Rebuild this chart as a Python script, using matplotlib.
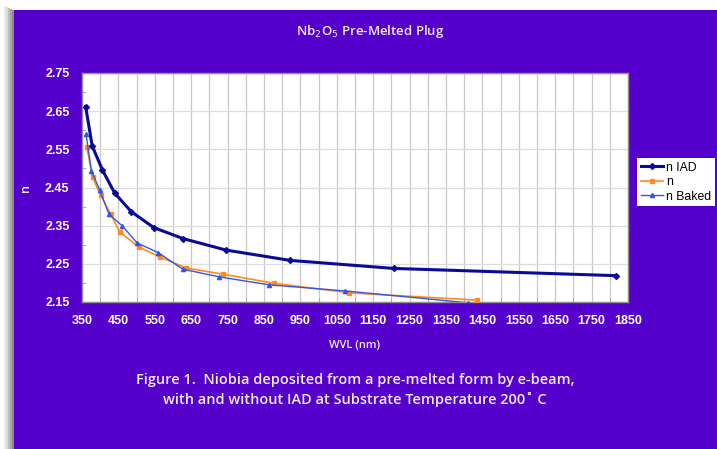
import numpy as np
import matplotlib
matplotlib.use('Agg')
import matplotlib.pyplot as plt
from matplotlib.patches import Rectangle
from matplotlib.ticker import MultipleLocator

# values
wvl_iad = [360, 378, 406, 440, 485, 547, 628, 746, 922, 1206, 1817]
n_iad = [2.662, 2.559, 2.496, 2.435, 2.387, 2.345, 2.316, 2.286, 2.259, 2.238, 2.219]

wvl_n = [363, 379, 401, 429, 454, 507, 564, 636, 737, 877, 1084, 1434]
n_plain = [2.557, 2.477, 2.430, 2.380, 2.333, 2.294, 2.268, 2.239, 2.223, 2.199, 2.174, 2.155]

wvl_baked = [361, 376, 399, 424, 460, 501, 560, 627, 726, 864, 1073, 1410]
n_baked = [2.590, 2.493, 2.443, 2.380, 2.350, 2.305, 2.279, 2.236, 2.216, 2.195, 2.179, 2.148]

x_ticks = list(range(350, 1851, 100))
y_ticks = [2.15, 2.25, 2.35, 2.45, 2.55, 2.65, 2.75]

PURPLE = '#5500CC'
TXT = '#F2ECFF'

fig = plt.figure(figsize=(7.17, 4.49), dpi=100, facecolor='white')

# drop shadow + purple panel
for i, a in enumerate([0.08, 0.15, 0.25, 0.35, 0.45]):
    fig.patches.append(Rectangle(((4 + i * 2) / 717, 0), 2 / 717, 1 - (6 + i) / 449,
                                 transform=fig.transFigure, color='black', alpha=a, lw=0, zorder=0))
fig.patches.append(Rectangle((14 / 717, 0), 1, 1 - 10 / 449, transform=fig.transFigure,
                             color=PURPLE, lw=0, zorder=1))

ax = fig.add_axes([82 / 717, 1 - 302 / 449, 546 / 717, 229 / 449])
ax.set_zorder(5)
ax.set_facecolor('white')

ax.plot(wvl_iad, n_iad, color='#0A0A99', lw=2.2, marker='D', ms=3, label='n IAD', zorder=5)
ax.plot(wvl_n, n_plain, color='#FF8C1A', lw=1.2, marker='s', ms=3, label='n', zorder=4)
ax.plot(wvl_baked, n_baked, color='#3355EE', lw=1.0, marker='^', ms=3, label='n Baked', zorder=4)

ax.set_xlim(350, 1850)
ax.set_ylim(2.15, 2.75)
ax.set_xticks(x_ticks)
ax.set_yticks(y_ticks)
ax.set_yticklabels([f'{v:.2f}' for v in y_ticks])
ax.xaxis.set_minor_locator(MultipleLocator(50))
ax.yaxis.set_minor_locator(MultipleLocator(0.05))

ax.grid(True, which='major', axis='y', color='#DDDDDD', lw=0.9)
ax.grid(True, which='both', axis='x', color='#C8C8C8', lw=0.9)
ax.set_axisbelow(True)

for s in ax.spines.values():
    s.set_color('#909090')
    s.set_linewidth(1.0)

ax.tick_params(which='both', direction='in', color='#A0A0A0', labelcolor='white')
ax.tick_params(which='major', length=0, pad=9)
ax.tick_params(which='minor', length=3)
for lab in ax.get_xticklabels() + ax.get_yticklabels():
    lab.set_fontfamily('Liberation Sans')
    lab.set_fontweight('bold')
    lab.set_fontsize(9)

ax.set_xlabel('WVL (nm)', color=TXT, fontsize=8, family='Open Sans', fontweight='semibold', labelpad=10)
ax.set_ylabel('n', color=TXT, fontsize=9, family='Open Sans', fontweight='semibold', labelpad=9)

fig.text(370 / 717, 1 - 31 / 449, r'Nb$_2$O$_5$ Pre-Melted Plug', ha='center', va='center',
         color=TXT, fontsize=9.5, family='Open Sans', fontweight='semibold')

leg = fig.legend(loc='upper right', bbox_to_anchor=(715 / 717, 1 - 158 / 449), frameon=True,
                 fancybox=False, framealpha=1, prop={'family': 'Liberation Sans', 'size': 8.8},
                 handlelength=1.8, handletextpad=0.25, borderpad=0.3, labelspacing=0.2,
                 borderaxespad=0)
leg.set_zorder(10)
leg.get_frame().set_edgecolor('white')
leg.get_frame().set_linewidth(0)

fig.text(355 / 717, 1 - 380 / 449, 'Figure 1.  Niobia deposited from a pre-melted form by e-beam,',
         ha='center', va='center', color=TXT, fontsize=10.45, family='Open Sans', fontweight='semibold')
fig.text(355 / 717, 1 - 399 / 449, 'with and without IAD at Substrate Temperature 200\u02da C',
         ha='center', va='center', color=TXT, fontsize=10.45, family='Open Sans', fontweight='semibold')

fig.savefig('out.png', dpi=100, facecolor=fig.get_facecolor())
